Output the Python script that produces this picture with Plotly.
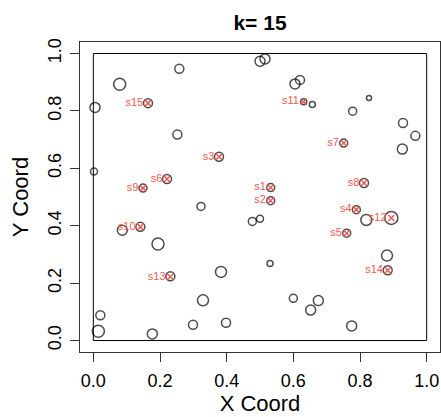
import plotly.graph_objects as go

# ---- data ----
pt_x = [0.258, 0.079, 0.164, 0.005, 0.252, 0.377, 0.002, 0.221, 0.149,
        0.500, 0.515, 0.605, 0.620, 0.631, 0.657, 0.827, 0.778, 0.929,
        0.966, 0.927, 0.751, 0.812, 0.532, 0.532, 0.141, 0.087, 0.323,
        0.194, 0.231, 0.383, 0.329, 0.021, 0.015, 0.177, 0.299, 0.398,
        0.477, 0.500, 0.530, 0.789, 0.819, 0.894, 0.760, 0.881, 0.883,
        0.600, 0.675, 0.652, 0.775]
pt_y = [0.947, 0.893, 0.827, 0.812, 0.718, 0.640, 0.589, 0.563, 0.531,
        0.973, 0.981, 0.894, 0.908, 0.832, 0.822, 0.845, 0.799, 0.758,
        0.713, 0.667, 0.688, 0.549, 0.533, 0.487, 0.396, 0.384, 0.467,
        0.336, 0.224, 0.239, 0.140, 0.088, 0.032, 0.023, 0.055, 0.062,
        0.415, 0.424, 0.268, 0.456, 0.420, 0.427, 0.374, 0.296, 0.245,
        0.147, 0.139, 0.106, 0.051]
pt_w = [9, 12, 9, 10, 9, 9, 7, 9, 8,
        10, 10, 10, 9, 6, 6, 5, 8, 9,
        9, 10, 8, 9, 8, 8, 9, 10, 8,
        12, 9, 11, 11, 9, 12, 10, 9, 9,
        8, 7, 6, 8, 11, 13, 8, 11, 9,
        8, 10, 10, 10]

site_lab = ["s1", "s2", "s3", "s4", "s5", "s6", "s7", "s8", "s9", "s10",
            "s11", "s12", "s13", "s14", "s15"]
site_x = [0.532, 0.532, 0.377, 0.789, 0.760, 0.221, 0.751, 0.812, 0.149,
          0.141, 0.631, 0.894, 0.231, 0.883, 0.164]
site_y = [0.533, 0.487, 0.640, 0.456, 0.374, 0.563, 0.688, 0.549, 0.531,
          0.396, 0.832, 0.427, 0.222, 0.245, 0.827]

x_ticks = [0, 0.2, 0.4, 0.6, 0.8, 1.0]
x_tick_labels = ["0.0", "0.2", "0.4", "0.6", "0.8", "1.0"]
y_ticks = [0, 0.2, 0.4, 0.6, 0.8, 1.0]
y_tick_labels = ["0.0", "0.2", "0.4", "0.6", "0.8", "1.0"]

RED = "#EE5A52"
FONT = "Liberation Sans, Arial, Helvetica, sans-serif"

fig = go.Figure()
fig.add_trace(go.Scatter(
    x=pt_x, y=pt_y, mode="markers",
    marker=dict(symbol="circle-open", size=pt_w, color="black",
                line=dict(width=1.5, color="black")),
    hoverinfo="skip", showlegend=False))
fig.add_trace(go.Scatter(
    x=site_x, y=site_y, mode="markers+text", text=site_lab,
    textposition="middle left",
    textfont=dict(family=FONT, size=11, color=RED),
    marker=dict(symbol="x-thin-open", size=6, color=RED,
                line=dict(width=1.5, color=RED)),
    showlegend=False))

fig.add_shape(type="rect", x0=0, y0=0, x1=1, y1=1, xref="x", yref="y",
              line=dict(color="black", width=1), layer="below")

fig.update_layout(
    width=441, height=417,
    margin=dict(l=80, r=1, t=42, b=65),
    paper_bgcolor="white", plot_bgcolor="white",
    font=dict(family=FONT, color="black"),
    title=dict(text="<b>k= 15</b>", x=(80 + 440) / 2 / 441, xref="container",
               xanchor="center", y=1 - 23 / 417, yref="container",
               yanchor="middle", font=dict(size=21, family=FONT)),
    xaxis=dict(range=[-0.04, 1.04], showgrid=False, zeroline=False,
               automargin=False,
               showline=True, mirror=True, linecolor="#333", linewidth=1,
               ticks="outside", ticklen=9, tickcolor="#333",
               tickvals=x_ticks, ticktext=x_tick_labels,
               tickfont=dict(size=18), ticklabelstandoff=3,
               title=dict(text="X Coord", font=dict(size=22), standoff=6)),
    yaxis=dict(range=[-0.04, 1.04], showgrid=False, zeroline=False,
               automargin=False,
               showline=True, mirror=True, linecolor="#333", linewidth=1,
               ticks="outside", ticklen=9, tickcolor="#333",
               tickvals=y_ticks, ticktext=y_tick_labels, tickangle=-90,
               tickfont=dict(size=18), ticklabelstandoff=2,
               title=dict(text="Y Coord", font=dict(size=22), standoff=10)),
)

fig.write_html("out.html",
               config={"displayModeBar": False},
               post_script="document.body.style.margin='0';"
                           "document.body.style.overflow='hidden';")
